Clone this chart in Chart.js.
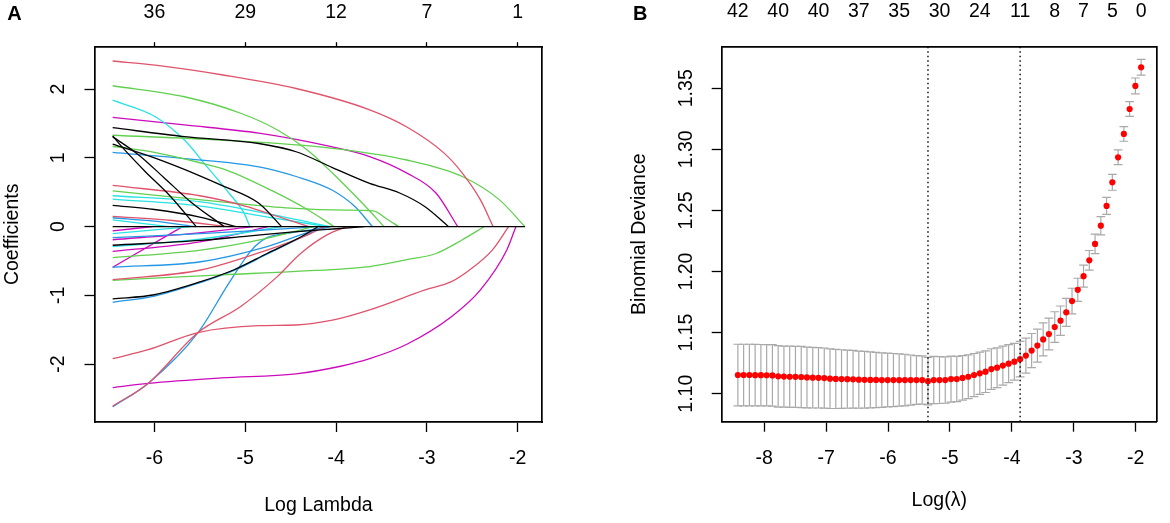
<!DOCTYPE html>
<html>
<head>
<meta charset="utf-8">
<title>LASSO coefficient paths and CV deviance</title>
<script src="https://cdn.jsdelivr.net/npm/chart.js@4.4.1/dist/chart.umd.min.js"></script>
<style>
  html, body { margin: 0; padding: 0; background: #fff; }
  #wrap { position: relative; width: 1170px; height: 523px; }
  .panel { position: absolute; top: 0; width: 585px; height: 523px; }
</style>
</head>
<body>
<div id="wrap">
  <div class="panel" style="left:0"><canvas id="coefChart" width="585" height="523"></canvas></div>
  <div class="panel" style="left:585px"><canvas id="cvChart" width="585" height="523"></canvas></div>
</div>
<script>
// ---------- panel A : coefficient paths (log lambda, coefficient) ----------
var coefXTicks = [-6, -5, -4, -3, -2];
var coefXTickLabels = ['-6', '-5', '-4', '-3', '-2'];
var coefDfLabels = ['36', '29', '12', '7', '1'];
var coefYTicks = [-2, -1, 0, 1, 2];
var coefYTickLabels = ['-2', '-1', '0', '1', '2'];

var blackPaths = [
  [[-6.46,1.44],[-5.67,1.31],[-4.85,1.21],[-4.44,1.09],[-4.04,0.86],[-3.63,0.63],[-3.30,0.49],[-3.02,0.29],[-2.76,0]],
  [[-6.46,1.32],[-6.33,1.12],[-6.10,0.80],[-5.83,0.45],[-5.54,0]],
  [[-6.46,1.31],[-6.17,1.04],[-5.90,0.72],[-5.60,0.36],[-5.23,0]],
  [[-6.46,1.20],[-6.00,1.00],[-5.50,0.74],[-5.26,0.60],[-4.85,0.34],[-4.60,0]],
  [[-6.46,0.31],[-6.00,0.25],[-5.50,0.14],[-5.10,0]],
  [[-6.46,-0.27],[-5.50,-0.20],[-5.00,-0.14],[-4.50,-0.08],[-4.00,-0.03],[-3.69,0]],
  [[-6.46,-1.05],[-6.00,-0.99],[-5.49,-0.80],[-5.13,-0.63],[-4.76,-0.39],[-4.39,-0.15],[-4.20,0]]
];
var redPaths = [
  [[-6.46,2.41],[-5.99,2.35],[-5.26,2.21],[-4.44,2.01],[-3.63,1.70],[-3.22,1.45],[-2.81,1.07],[-2.61,0.78],[-2.41,0.39],[-2.27,0]],
  [[-6.46,0.60],[-5.50,0.45],[-5.00,0.30],[-4.60,0.13],[-4.30,0]],
  [[-6.46,0.15],[-5.80,0.09],[-5.17,0]],
  [[-6.46,-0.77],[-5.49,-0.63],[-4.76,-0.34],[-4.28,-0.10],[-4.13,0]],
  [[-6.46,-1.92],[-6.07,-1.79],[-5.52,-1.54],[-4.85,-1.44],[-4.44,-1.43],[-4.04,-1.36],[-3.63,-1.21],[-3.02,-0.92],[-2.73,-0.80],[-2.53,-0.63],[-2.28,-0.34],[-2.10,0]],
  [[-6.46,-2.61],[-6.07,-2.28],[-5.52,-1.54],[-5.05,-1.16],[-4.65,-0.73],[-4.39,-0.39],[-4.10,-0.12],[-3.88,0]]
];
var greenPaths = [
  [[-6.46,2.05],[-5.67,1.89],[-5.05,1.65],[-4.65,1.41],[-4.32,1.12],[-4.04,0.78],[-3.71,0.34],[-3.47,0]],
  [[-6.46,1.33],[-5.26,1.26],[-4.04,1.14],[-3.22,0.97],[-2.61,0.73],[-2.20,0.39],[-1.92,0]],
  [[-6.46,1.17],[-6.00,1.08],[-5.50,0.93],[-5.20,0.82],[-4.70,0.52],[-4.33,0.26],[-4.02,0]],
  [[-6.46,0.52],[-5.26,0.36],[-4.50,0.27],[-3.90,0.24],[-3.59,0.23],[-3.45,0.12],[-3.31,0]],
  [[-6.46,-0.45],[-5.49,-0.34],[-4.80,-0.18],[-4.25,0]],
  [[-6.46,-0.78],[-5.26,-0.70],[-4.44,-0.65],[-3.63,-0.58],[-3.22,-0.48],[-2.90,-0.39],[-2.61,-0.19],[-2.37,0]]
];
var bluePaths = [
  [[-6.46,1.08],[-5.67,0.99],[-4.85,0.87],[-4.44,0.73],[-4.04,0.53],[-3.79,0.29],[-3.60,0]],
  [[-6.46,0.13],[-6.00,0.08],[-5.54,0]],
  [[-6.46,-0.16],[-5.49,-0.10],[-4.80,-0.05],[-4.21,0]],
  [[-6.46,-0.59],[-5.49,-0.51],[-4.76,-0.29],[-4.30,-0.08],[-4.06,0]],
  [[-6.46,-1.10],[-6.00,-1.01],[-5.49,-0.81],[-5.13,-0.64],[-4.76,-0.40],[-4.39,-0.16],[-4.15,0]],
  [[-6.46,-2.62],[-6.07,-2.28],[-5.52,-1.54],[-5.18,-0.82],[-4.93,-0.34],[-4.76,-0.16],[-4.50,-0.09],[-4.25,-0.04],[-4.08,0]]
];
var cyanPaths = [
  [[-6.46,1.84],[-5.99,1.60],[-5.67,1.26],[-5.42,0.87],[-5.18,0.49],[-5.01,0.19],[-4.95,0]],
  [[-6.46,0.45],[-5.49,0.36],[-4.80,0.20],[-4.06,0]],
  [[-6.46,0.40],[-5.49,0.30],[-4.80,0.15],[-4.10,0]],
  [[-6.46,0.10],[-5.84,0]],
  [[-6.46,-0.10],[-5.60,0]],
  [[-6.46,-0.29],[-5.50,-0.18],[-4.60,0]]
];
var magentaPaths = [
  [[-6.46,1.59],[-5.67,1.48],[-4.85,1.36],[-4.04,1.16],[-3.63,1.02],[-3.22,0.78],[-2.90,0.49],[-2.66,0]],
  [[-6.46,-0.06],[-6.02,0]],
  [[-6.46,-0.19],[-5.60,-0.10],[-4.91,0]],
  [[-6.46,-0.36],[-5.50,-0.22],[-4.75,0]],
  [[-6.46,-0.59],[-5.69,0]],
  [[-6.46,-2.34],[-6.07,-2.28],[-5.26,-2.20],[-4.44,-2.14],[-3.95,-2.03],[-3.63,-1.92],[-3.22,-1.71],[-2.73,-1.31],[-2.41,-0.92],[-2.12,-0.34],[-2.02,0]]
];
// variables that stay at zero over the whole path
var zeroPath = [[-6.46,0],[-1.92,0]];

// ---------- panel B : cross-validation curve ----------
var logLambda = [
  -8.425,-8.332,-8.239,-8.146,-8.053,-7.960,-7.867,-7.774,-7.681,-7.588,-7.495,
  -7.402,-7.309,-7.216,-7.123,-7.030,-6.937,-6.844,-6.751,-6.658,-6.565,
  -6.472,-6.379,-6.286,-6.193,-6.100,-6.006,-5.913,-5.820,-5.727,-5.634,-5.541,-5.448,
  -5.355,-5.262,-5.169,-5.076,-4.983,-4.890,-4.797,-4.704,-4.611,-4.518,-4.425,-4.332,
  -4.239,-4.146,-4.053,-3.960,-3.867,-3.774,-3.681,-3.588,-3.495,-3.402,-3.308,-3.215,
  -3.122,-3.029,-2.936,-2.843,-2.750,-2.657,-2.564,-2.471,-2.378,-2.285,-2.192,-2.099,
  -2.006,-1.913
];
var cvm = [
  1.1153,1.1153,1.1153,1.1152,1.1152,1.1151,1.1150,
  1.1142,1.1140,1.1139,1.1138,1.1137,
  1.1133,1.1131,1.1130,1.1128,
  1.1123,1.1121,1.1120,1.1119,1.1118,
  1.1115,1.1114,1.1113,1.1113,1.1112,1.1112,1.1112,1.1112,1.1112,1.1112,1.1112,1.1112,
  1.1103,
  1.1112,1.1112,1.1112,1.1120,1.1120,1.1129,1.1139,1.1153,1.1167,1.1180,1.1202,1.1213,
  1.1230,1.1246,1.1262,1.1283,1.1312,1.1353,1.1394,1.1444,1.1488,1.1546,1.1598,1.1666,
  1.1758,1.1850,1.1962,1.2092,1.2226,1.2375,1.2537,1.2730,1.2935,1.3126,1.3330,1.3519,
  1.3672
];
var cvsd = [
  0.0252,0.0252,0.0252,0.0252,0.0251,0.0251,0.0251,0.0251,0.0250,0.0250,0.0250,0.0250,
  0.0249,0.0248,0.0247,0.0246,0.0244,0.0242,0.0240,0.0238,0.0236,0.0234,0.0232,0.0229,
  0.0226,0.0223,0.0220,0.0217,0.0214,0.0211,0.0205,0.0200,0.0197,
  0.0194,0.0193,0.0192,0.0190,0.0188,0.0185,0.0182,0.0179,0.0176,0.0173,0.0170,0.0166,
  0.0163,0.0160,0.0155,0.0150,0.0145,0.0143,0.0140,0.0135,0.0135,0.0130,0.0125,0.0120,
  0.0115,0.0105,0.0095,0.0090,0.0080,0.0080,0.0075,0.0070,0.0065,0.0060,0.0060,0.0060,
  0.0065,0.0065
];
var cvXTicks = [-8, -7, -6, -5, -4, -3, -2];
var cvXTickLabels = ['-8', '-7', '-6', '-5', '-4', '-3', '-2'];
var cvYTicks = [1.10, 1.15, 1.20, 1.25, 1.30, 1.35];
var cvYTickLabels = ['1.10', '1.15', '1.20', '1.25', '1.30', '1.35'];
var cvDfLambda = [-8.425,-7.774,-7.123,-6.472,-5.820,-5.169,-4.518,-3.867,-3.308,-2.843,-2.378,-1.913];
var cvDfLabels = ['42','40','40','37','35','30','24','11','8','7','5','0'];
var lambdaMinLog = -5.355;
var lambda1seLog = -3.867;

var coefXRange = [-6.66, -1.729];
var coefYRange = [-2.841, 2.618];
var cvXRange = [-8.686, -1.66];
var cvYRange = [1.0771, 1.3840];

Chart.defaults.font.family = "'Liberation Sans', Arial, Helvetica, sans-serif";
Chart.defaults.font.size = 19.5;
Chart.defaults.color = '#000';

var R_COLS = { black: '#000000', red: '#DF536B', green: '#61D04F', blue: '#2297E6', cyan: '#28E2E5', magenta: '#CD0BBC' };

function fixedTicks(values) {
  return function(scale) {
    scale.ticks = values.map(function(v) { return { value: v }; });
  };
}
function labelFrom(values, labels) {
  return function(value) {
    var i = values.indexOf(value);
    return i >= 0 ? labels[i] : '';
  };
}
function pathDataset(path, color, order) {
  return {
    data: path.map(function(p) { return { x: p[0], y: p[1] }; }),
    borderColor: color,
    borderWidth: 1.3,
    pointRadius: 0,
    fill: false,
    cubicInterpolationMode: 'monotone',
    order: order || 0
  };
}
function panelLetter(letter, x, y) {
  return {
    id: 'panelLetter' + letter,
    afterDraw: function(chart) {
      var ctx = chart.ctx;
      ctx.save();
      ctx.font = "bold 20px 'Liberation Sans', Arial, sans-serif";
      ctx.fillStyle = '#000';
      ctx.textAlign = 'center';
      ctx.textBaseline = 'middle';
      ctx.fillText(letter, x, y);
      ctx.restore();
    }
  };
}

var tickGrid = { drawOnChartArea: false, drawTicks: true, tickLength: 10, tickColor: '#000', tickWidth: 1.3, color: '#000' };
var noGrid = { display: false, drawTicks: false, tickLength: 0 };
var boxBorder = { display: true, color: '#000', width: 1.7 };

// ---------- build panel A ----------
var coefDatasets = [pathDataset(zeroPath, R_COLS.black, -1)];
var groups = [[blackPaths, 'black'], [redPaths, 'red'], [greenPaths, 'green'], [bluePaths, 'blue'], [cyanPaths, 'cyan'], [magentaPaths, 'magenta']];
groups.forEach(function(g) {
  g[0].forEach(function(p) { coefDatasets.push(pathDataset(p, R_COLS[g[1]])); });
});

new Chart(document.getElementById('coefChart'), {
  type: 'line',
  data: { datasets: coefDatasets },
  options: {
    responsive: false, animation: false, devicePixelRatio: 1,
    layout: { padding: 0 },
    plugins: { legend: { display: false }, tooltip: { enabled: false } },
    scales: {
      x: {
        type: 'linear', position: 'bottom', min: coefXRange[0], max: coefXRange[1],
        afterBuildTicks: fixedTicks(coefXTicks),
        afterFit: function(s) { s.height = 101; },
        ticks: { callback: labelFrom(coefXTicks, coefXTickLabels), padding: 15.1, autoSkip: false, maxRotation: 0 },
        grid: tickGrid, border: boxBorder,
        title: { display: true, text: 'Log Lambda', padding: { top: 0, bottom: 5.5 } }
      },
      xTop: {
        type: 'linear', position: 'top', min: coefXRange[0], max: coefXRange[1],
        afterBuildTicks: fixedTicks(coefXTicks),
        afterFit: function(s) { s.height = 46.7; },
        ticks: { callback: labelFrom(coefXTicks, coefDfLabels), padding: 18.3, autoSkip: false, maxRotation: 0 },
        grid: { drawOnChartArea: false, drawTicks: true, tickLength: 4.5, tickColor: '#000', tickWidth: 1.3, color: '#000' },
        border: boxBorder
      },
      y: {
        type: 'linear', position: 'left', min: coefYRange[0], max: coefYRange[1],
        afterBuildTicks: fixedTicks(coefYTicks),
        afterFit: function(s) { s.width = 94.5; },
        ticks: { callback: labelFrom(coefYTicks, coefYTickLabels), padding: 16.8, minRotation: 90, maxRotation: 90, crossAlign: 'center', autoSkip: false },
        grid: tickGrid, border: boxBorder,
        title: { display: true, text: 'Coefficients', padding: { top: 1.3, bottom: 0 } }
      },
      yRight: {
        type: 'linear', position: 'right', min: coefYRange[0], max: coefYRange[1],
        afterFit: function(s) { s.width = 42.7; },
        ticks: { display: false },
        grid: noGrid, border: boxBorder
      }
    }
  },
  plugins: [panelLetter('A', 14.4, 14.5)]
});

// ---------- build panel B ----------
var errorBars = {
  id: 'cvErrorBars',
  beforeDatasetsDraw: function(chart) {
    var ctx = chart.ctx, xs = chart.scales.x, ys = chart.scales.y;
    var barw = 0.01 * (cvXRange[1] - cvXRange[0]);
    ctx.save();
    ctx.strokeStyle = '#A9A9A9';
    ctx.lineWidth = 1.2;
    for (var i = 0; i < logLambda.length; i++) {
      var px = xs.getPixelForValue(logLambda[i]);
      var pl = xs.getPixelForValue(logLambda[i] - barw);
      var pr = xs.getPixelForValue(logLambda[i] + barw);
      var hi = ys.getPixelForValue(cvm[i] + cvsd[i]);
      var lo = ys.getPixelForValue(cvm[i] - cvsd[i]);
      ctx.beginPath();
      ctx.moveTo(px, hi); ctx.lineTo(px, lo);
      ctx.moveTo(pl, hi); ctx.lineTo(pr, hi);
      ctx.moveTo(pl, lo); ctx.lineTo(pr, lo);
      ctx.stroke();
    }
    ctx.restore();
  }
};

function vline(xv) {
  return {
    data: [{ x: xv, y: cvYRange[0] }, { x: xv, y: cvYRange[1] }],
    borderColor: '#000', borderWidth: 1.4, borderDash: [1.5, 3],
    pointRadius: 0, fill: false, order: -1
  };
}

new Chart(document.getElementById('cvChart'), {
  type: 'line',
  data: {
    datasets: [
      {
        data: logLambda.map(function(v, i) { return { x: v, y: cvm[i] }; }),
        showLine: false,
        pointRadius: 3.1,
        pointBackgroundColor: '#FF0000',
        pointBorderWidth: 0,
        order: 0
      },
      vline(lambdaMinLog),
      vline(lambda1seLog)
    ]
  },
  options: {
    responsive: false, animation: false, devicePixelRatio: 1,
    layout: { padding: 0 },
    plugins: { legend: { display: false }, tooltip: { enabled: false } },
    scales: {
      x: {
        type: 'linear', position: 'bottom', min: cvXRange[0], max: cvXRange[1],
        afterBuildTicks: fixedTicks(cvXTicks),
        afterFit: function(s) { s.height = 101.3; },
        ticks: { callback: labelFrom(cvXTicks, cvXTickLabels), padding: 14.9, autoSkip: false, maxRotation: 0 },
        grid: tickGrid, border: boxBorder,
        title: { display: true, text: 'Log(\u03bb)', padding: { top: 0, bottom: 10.3 } }
      },
      xTop: {
        type: 'linear', position: 'top', min: cvXRange[0], max: cvXRange[1],
        afterBuildTicks: fixedTicks(cvDfLambda),
        afterFit: function(s) { s.height = 46.7; },
        ticks: { callback: labelFrom(cvDfLambda, cvDfLabels), padding: 23.3, autoSkip: false, maxRotation: 0 },
        grid: noGrid, border: boxBorder
      },
      y: {
        type: 'linear', position: 'left', min: cvYRange[0], max: cvYRange[1],
        afterBuildTicks: fixedTicks(cvYTicks),
        afterFit: function(s) { s.width = 136.7; },
        ticks: { callback: labelFrom(cvYTicks, cvYTickLabels), padding: 5.6, minRotation: 90, maxRotation: 90, crossAlign: 'center', autoSkip: false },
        grid: tickGrid, border: boxBorder,
        title: { display: true, text: 'Binomial Deviance', padding: { top: 43.2, bottom: 0 } }
      },
      yRight: {
        type: 'linear', position: 'right', min: cvYRange[0], max: cvYRange[1],
        afterFit: function(s) { s.width = 1.7; },
        ticks: { display: false },
        grid: noGrid, border: boxBorder
      }
    }
  },
  plugins: [errorBars, panelLetter('B', 55.3, 14.5)]
});
</script>
</body>
</html>
